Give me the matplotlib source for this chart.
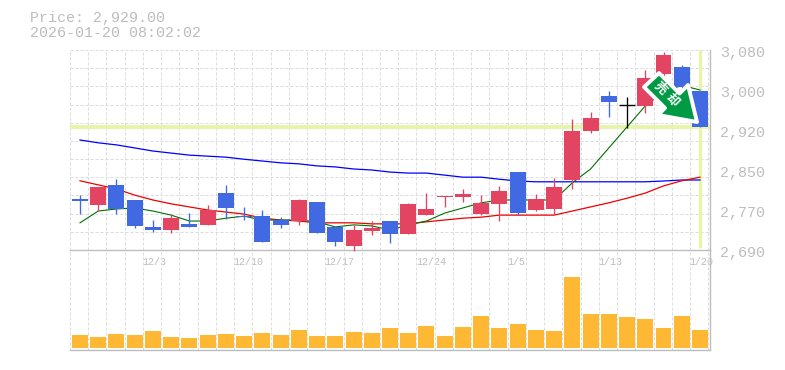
import matplotlib
matplotlib.use("Agg")
import matplotlib.pyplot as plt
from matplotlib.patches import Polygon
from matplotlib.transforms import Affine2D, offset_copy

dates = ["12/3", "12/10", "12/17", "12/24", "1/5", "1/13", "1/20"]
date_idx = [4, 9, 14, 19, 24, 29, 34]

opens = [2790, 2778, 2817, 2788, 2735, 2729, 2741, 2739, 2801, 2756, 2756, 2748, 2746, 2784, 2735, 2698, 2727, 2746,
         2721, 2758, 2793, 2793, 2760, 2780, 2842, 2768, 2770, 2826, 2922, 2990, 2973, 2971, 3033, 3047, 3000]
highs = [2797, 2813, 2828, 2788, 2748, 2760, 2762, 2778, 2817, 2774, 2768, 2754, 2789, 2784, 2735, 2739, 2746, 2746,
         2782, 2801, 2795, 2809, 2797, 2815, 2842, 2799, 2830, 2945, 2959, 3000, 2988, 3041, 3076, 3051, 3000]
lows = [2760, 2766, 2760, 2733, 2725, 2723, 2735, 2739, 2750, 2748, 2706, 2733, 2739, 2723, 2698, 2688, 2719, 2704,
        2721, 2758, 2774, 2784, 2758, 2746, 2758, 2766, 2760, 2809, 2918, 2949, 2928, 2957, 3020, 3000, 2929]
closes = [2786, 2813, 2770, 2737, 2729, 2752, 2735, 2768, 2772, 2754, 2706, 2739, 2788, 2723, 2706, 2729, 2733, 2721,
          2780, 2770, 2795, 2799, 2782, 2805, 2762, 2790, 2813, 2922, 2947, 2979, 2973, 3025, 3070, 3008, 2929]

ma_short = [2743, 2766, 2770, 2772, 2766, 2758, 2746.5, 2746.5, 2752, 2756, 2748.5, 2748.5, 2748.5, 2745, 2735, 2739,
            2737, 2729, 2739, 2746.5, 2762, 2772, 2782, 2787.5, 2787.5, 2787.5, 2787.5, 2821, 2848, 2889, 2930, 2971,
            2998, 3011, 3002]
ma_mid = [2825, 2817, 2809, 2797, 2787.5, 2780, 2774, 2768, 2764, 2760, 2752, 2748.5, 2746.5, 2743, 2743, 2743, 2741,
          2741, 2741, 2745, 2748.5, 2752, 2754, 2758, 2758, 2758, 2758, 2766, 2774, 2782, 2791, 2801, 2815, 2825, 2832]
ma_long = [2904.5, 2899, 2895, 2889, 2883, 2879, 2875, 2873, 2871, 2867, 2863.5, 2860, 2858, 2854, 2852, 2848, 2846,
           2842, 2840, 2840, 2836, 2832, 2832, 2828, 2824.5, 2823, 2823, 2823, 2823, 2823, 2823, 2823, 2824.5, 2826.5,
           2826.5]
volumes = [13, 11, 14, 13, 17, 11, 10, 13, 14, 12, 15, 13, 18, 12, 12, 16, 15, 20, 15, 22, 12, 21, 32, 20, 24, 18, 17,
           71, 34, 34, 31, 29, 20, 32, 18]

price_ticks = [2690, 2768, 2846, 2924, 3002, 3080]
price_tick_labels = ["2,690", "2,770", "2,850", "2,920", "3,000", "3,080"]
last_price = 2929
title_lines = ["Price: 2,929.00", "2026-01-20 08:02:02"]
badge_text = "売却"

W, H = 785, 370
GRAY = "#bdbdbd"
GRID = "#dcdcdc"
MONO = "Liberation Mono"
UP, DOWN, FLAT = "#e24462", "#4169e1", "#000000"
MARK = "#e6f5a8"

fig = plt.figure(figsize=(W / 100, H / 100), dpi=100, facecolor="white")


def rect(left, top, right, bottom):
    return [left / W, 1 - bottom / H, (right - left) / W, (bottom - top) / H]


ax = fig.add_axes(rect(70, 50, 710, 250))
vax = fig.add_axes(rect(70, 250, 710, 349.5))
n = len(closes)
band = 18.235
edge = -10 / band
xmin, xmax = edge, edge + 640 / band
grid_kw = dict(color=GRID, lw=0.72, dashes=(3, 2), zorder=0)

for a in (ax, vax):
    a.set_xlim(xmin, xmax)
    a.set_xticks([])
    a.set_yticks([])
    a.patch.set_alpha(0)
    for s in ("top", "left"):
        a.spines[s].set_visible(False)
    for s in ("right", "bottom"):
        a.spines[s].set_color(GRAY)
        a.spines[s].set_linewidth(1.0)
    for i in range(n + 1):
        a.axvline(i + edge, **grid_kw)

ax.set_ylim(2690, 3080)
vax.set_ylim(-1.5, 98)
for i in range(12):
    ax.axhline(2690 + (3080 - 2690) * i / 11, **grid_kw)

# reference marks for the latest price and session
ax.axhline(last_price, color=MARK, lw=2.8, zorder=1)
ax.plot([n - 1, n - 1], [2694, 3080], color=MARK, lw=2.4, zorder=1, solid_capstyle="butt")

# moving averages
xs = list(range(n))
ax.plot(xs, ma_long, color="#0000ff", lw=0.9, zorder=2)
ax.plot(xs, ma_mid, color="#ee0000", lw=0.9, zorder=2)
ax.plot(xs, ma_short, color="#007000", lw=0.8, zorder=2)

# candles
for i, (o, h, l, c) in enumerate(zip(opens, highs, lows, closes)):
    col = UP if c > o else DOWN if c < o else FLAT
    ax.plot([i, i], [l, h], color=col, lw=0.95, zorder=3, solid_capstyle="butt", clip_on=False)
    if c == o:
        ax.plot([i - 0.43, i + 0.43], [c, c], color=col, lw=1.0, zorder=3, solid_capstyle="butt")
    else:
        ax.bar(i, abs(c - o), bottom=min(o, c), width=0.875, color=col, lw=0, zorder=3)

vax.bar(xs, volumes, width=0.875, color="#ffb833", lw=0, zorder=3)

# labels
for v, s in zip(price_ticks, price_tick_labels):
    tr = offset_copy(ax.get_yaxis_transform(), fig=fig, x=10, y=-3, units="dots")
    ax.text(1, v, s, transform=tr, ha="left", va="center", fontsize=10.8, family=MONO,
            color=GRAY, clip_on=False)
for i, s in zip(date_idx, dates):
    tr = offset_copy(ax.get_xaxis_transform(), fig=fig, x=-0.5, y=-12, units="dots")
    ax.text(i + edge, 0, s, transform=tr, ha="left", va="center", fontsize=7.2, family=MONO,
            color=GRAY, clip_on=False)
fig.text(30 / W, 1 - 18 / H, title_lines[0], ha="left", va="center", fontsize=10.8, family=MONO, color=GRAY)
fig.text(30 / W, 1 - 33 / H, title_lines[1], ha="left", va="center", fontsize=10.8, family=MONO, color=GRAY)

# signal badge, placed in figure pixels (origin top-left)
px = Affine2D().scale(1, -1).translate(0, H)
badge = [(644, 87), (659, 73), (679.5, 93.5), (688, 85), (697, 122), (658, 115), (665, 108)]
fig.add_artist(Polygon(badge, closed=True, transform=px, facecolor="#009944", edgecolor="white",
                       lw=2.8, joinstyle="round", zorder=10))
cjk = ["Noto Sans CJK JP", "DejaVu Sans"]
for ch, (bx, by) in zip(badge_text, [(660, 88.5), (672.5, 100.5)]):
    fig.text(bx / W, 1 - by / H, ch, rotation=-45, ha="center", va="center", rotation_mode="anchor",
             fontsize=9, fontweight="bold", color="white", family=cjk, zorder=11)

fig.savefig("out.png", dpi=100, facecolor="white")
